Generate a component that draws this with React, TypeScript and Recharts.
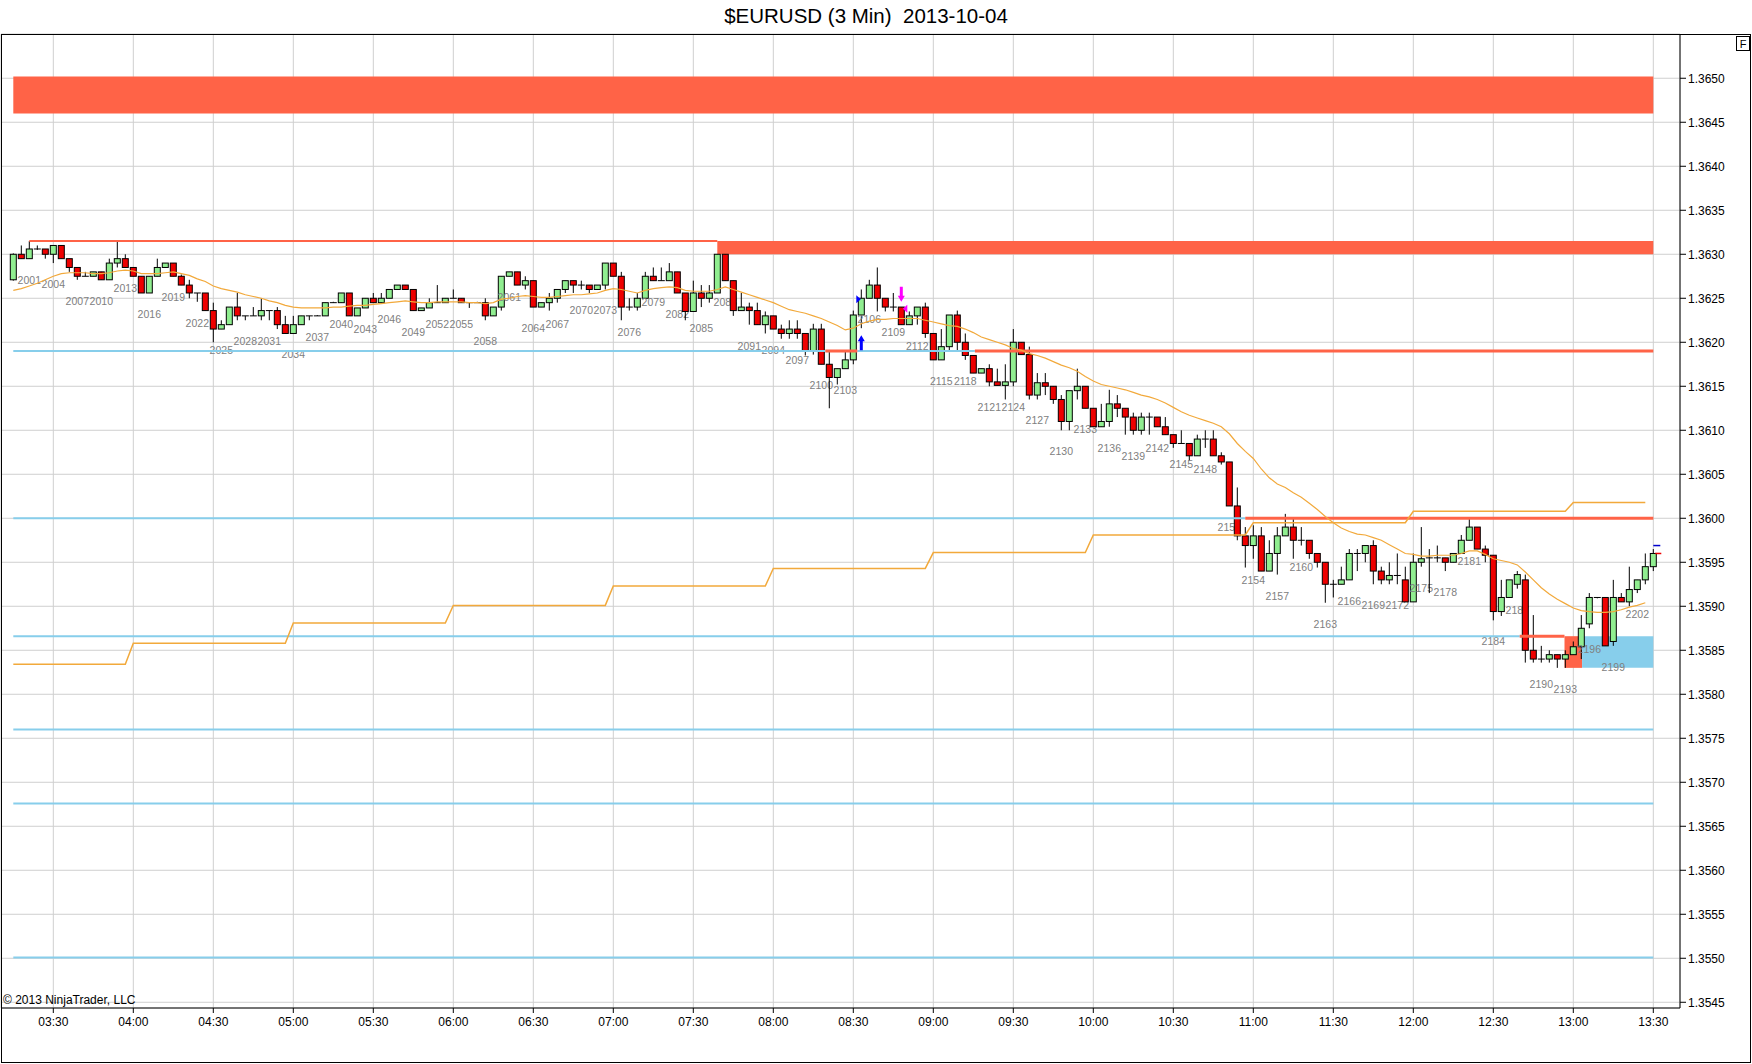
import React from "react";
import {
  ComposedChart,
  Bar,
  Line,
  XAxis,
  YAxis,
  CartesianGrid,
  ReferenceLine,
  ReferenceArea,
  ReferenceDot,
} from "recharts";

// quotes are stored in pips (0.0001) above 1.3600
const BASE = 1.36;
const PIP = 0.0001;
const FIRST_BAR = 1999;

const opens = [
  27.1, 30.0, 29.5, 30.6, 30.6, 30.0, 31.0, 29.5, 28.5, 27.5,
  27.5, 28.0, 27.1, 29.0, 29.5, 28.5, 27.5, 25.6, 27.5, 28.5,
  29.0, 27.5, 26.5, 25.6, 25.6, 23.6, 21.5, 22.0, 24.0, 23.0,
  23.0, 23.0, 23.6, 23.6, 22.0, 21.0, 22.0, 23.0, 23.0, 23.0,
  24.5, 24.5, 25.6, 23.0, 23.9, 25.0, 24.5, 25.0, 26.0, 26.5,
  26.0, 23.6, 23.9, 24.5, 24.5, 25.0, 25.0, 24.5, 24.5, 24.5,
  23.0, 24.0, 27.5, 28.0, 26.5, 27.0, 24.0, 24.5, 25.0, 26.0,
  27.0, 26.5, 26.5, 26.0, 26.5, 29.0, 27.5, 24.0, 24.0, 25.0,
  27.5, 27.0, 27.0, 28.0, 25.6, 23.5, 25.6, 25.0, 25.6, 30.0,
  27.0, 23.6, 24.0, 23.6, 22.0, 23.0, 21.5, 21.0, 21.5, 21.0,
  19.0, 21.5, 17.5, 16.0, 17.0, 18.0, 23.1, 25.0, 26.5, 25.0,
  24.0, 24.0, 22.0, 23.0, 24.0, 21.0, 18.0, 19.5, 23.1, 20.0,
  18.5, 16.5, 17.0, 15.5, 15.1, 15.5, 20.0, 18.6, 14.0, 15.4,
  15.0, 13.5, 11.0, 14.5, 15.0, 12.5, 10.4, 11.0, 13.0, 12.5,
  11.5, 10.0, 11.5, 11.5, 10.4, 9.5, 8.5, 8.5, 7.1, 9.0,
  9.0, 7.1, 6.4, 1.4, -2.0, -3.1, -2.0, -6.0, -4.0, -2.0,
  -1.0, -2.5, -2.5, -4.0, -5.0, -7.5, -7.5, -7.0, -4.0, -4.0,
  -3.1, -6.0, -7.0, -6.5, -7.0, -9.5, -5.0, -4.5, -4.5, -4.5,
  -5.0, -4.0, -2.5, -1.0, -3.5, -4.2, -10.6, -9.0, -7.5, -7.0,
  -15.0, -16.0, -16.0, -15.5, -16.0, -15.5, -14.6, -12.0, -9.0, -9.0,
  -14.0, -9.0, -9.5, -8.1, -7.0, -5.5,
];

const highs = [
  30.1, 31.0, 31.5, 31.0, 30.6, 31.0, 31.0, 29.5, 28.5, 28.0,
  28.0, 28.0, 29.5, 31.5, 30.0, 28.5, 27.5, 27.5, 29.5, 29.0,
  29.0, 27.7, 27.1, 25.6, 25.6, 24.5, 22.5, 24.0, 25.6, 23.0,
  24.0, 25.0, 23.6, 24.0, 23.0, 23.0, 23.0, 23.0, 23.1, 24.5,
  24.6, 25.6, 25.6, 23.9, 25.0, 25.6, 25.6, 26.0, 26.5, 26.5,
  26.0, 23.9, 25.0, 26.5, 25.0, 26.0, 25.0, 24.5, 24.6, 25.0,
  24.0, 27.5, 28.0, 28.0, 27.5, 27.0, 24.5, 25.6, 26.0, 27.0,
  27.0, 27.0, 26.5, 26.5, 29.0, 29.0, 28.0, 25.0, 25.6, 28.0,
  28.5, 28.5, 29.0, 28.0, 25.6, 27.0, 26.5, 26.5, 30.0, 30.0,
  27.0, 25.6, 24.5, 24.5, 23.5, 23.0, 22.0, 22.5, 22.5, 21.0,
  22.1, 22.1, 19.0, 17.0, 19.0, 23.6, 26.0, 27.1, 28.5, 25.0,
  25.6, 24.0, 23.5, 24.0, 24.5, 21.0, 21.5, 23.1, 23.6, 21.0,
  18.5, 17.0, 17.5, 17.0, 17.5, 21.5, 20.0, 19.5, 16.5, 16.5,
  15.0, 14.0, 14.5, 17.0, 15.0, 12.5, 13.0, 14.6, 14.0, 12.5,
  12.0, 12.0, 12.0, 11.5, 11.5, 9.5, 10.0, 8.5, 9.5, 10.0,
  10.0, 7.5, 6.4, 3.5, -1.0, -0.8, -1.0, -2.5, -1.0, 0.5,
  0.0, -1.0, -2.5, -4.0, -5.0, -7.0, -5.5, -3.5, -3.5, -3.1,
  -2.5, -5.5, -5.0, -4.0, -5.5, -4.0, -1.0, -3.5, -3.1, -4.5,
  -4.0, -1.9, 0.0, -1.0, -3.1, -4.2, -7.0, -7.0, -6.0, -6.4,
  -11.0, -14.5, -15.0, -15.5, -15.0, -14.0, -11.0, -8.5, -9.0, -9.0,
  -7.0, -8.5, -5.5, -7.0, -4.0, -3.5,
];

const lows = [
  27.0, 29.5, 29.5, 30.5, 29.5, 29.0, 29.5, 28.0, 27.1, 27.5,
  27.5, 27.1, 27.1, 28.5, 28.5, 27.5, 25.6, 25.6, 27.5, 28.5,
  27.5, 26.5, 25.0, 24.6, 23.6, 20.0, 21.5, 22.0, 22.5, 22.5,
  23.0, 22.5, 22.5, 21.5, 21.0, 21.0, 22.0, 22.5, 23.0, 23.0,
  24.5, 24.5, 23.0, 23.0, 23.9, 24.5, 24.5, 25.0, 26.0, 26.0,
  23.6, 23.6, 23.9, 24.5, 24.5, 25.0, 24.5, 23.9, 24.5, 22.5,
  23.0, 23.6, 27.5, 26.5, 26.0, 24.0, 24.0, 23.6, 24.5, 25.6,
  25.6, 26.0, 25.6, 26.0, 26.0, 27.5, 22.5, 23.6, 23.6, 25.0,
  27.0, 27.0, 27.0, 25.6, 22.5, 23.5, 24.0, 24.5, 25.6, 27.0,
  23.0, 23.6, 22.0, 22.0, 21.0, 21.5, 20.4, 20.4, 20.4, 18.5,
  18.6, 17.5, 12.5, 15.2, 17.0, 17.5, 21.6, 25.0, 23.5, 23.5,
  23.5, 22.0, 22.0, 22.0, 20.5, 18.0, 18.0, 19.0, 19.0, 18.0,
  16.5, 16.5, 15.0, 15.1, 13.5, 15.0, 18.6, 13.5, 13.5, 14.0,
  13.0, 10.0, 10.0, 13.5, 12.5, 10.4, 10.4, 10.4, 11.5, 9.5,
  9.5, 9.5, 9.5, 10.4, 9.5, 8.0, 8.5, 6.6, 7.1, 8.0,
  7.1, 6.1, 1.4, -2.5, -5.6, -4.6, -6.0, -6.0, -6.4, -2.0,
  -4.6, -3.1, -4.6, -5.6, -9.6, -9.0, -7.5, -7.0, -6.0, -5.0,
  -7.5, -7.5, -7.5, -7.5, -9.5, -9.5, -5.5, -8.5, -5.0, -6.0,
  -5.0, -4.0, -2.5, -3.5, -5.0, -11.6, -11.1, -9.0, -8.0, -16.4,
  -16.4, -16.4, -16.4, -17.0, -17.0, -15.5, -16.0, -12.5, -9.1, -14.5,
  -14.5, -9.5, -10.0, -8.5, -7.5, -6.0,
];

const closes = [
  30.0, 29.5, 30.6, 30.6, 30.0, 31.0, 29.5, 28.5, 27.5, 27.5,
  28.0, 27.1, 29.0, 29.5, 28.5, 27.5, 25.6, 27.5, 28.5, 29.0,
  27.5, 26.5, 25.6, 25.6, 23.6, 21.5, 22.0, 24.0, 23.0, 23.0,
  23.0, 23.6, 23.6, 22.0, 21.0, 22.0, 23.0, 23.0, 23.0, 24.5,
  24.5, 25.6, 23.0, 23.9, 25.0, 24.5, 25.0, 26.0, 26.5, 26.0,
  23.6, 23.9, 24.5, 24.5, 25.0, 25.0, 24.5, 24.5, 24.5, 23.0,
  24.0, 27.5, 28.0, 26.5, 27.0, 24.0, 24.5, 25.0, 26.0, 27.0,
  26.5, 26.5, 26.0, 26.5, 29.0, 27.5, 24.0, 24.0, 25.0, 27.5,
  27.0, 27.0, 28.0, 25.6, 23.5, 25.6, 25.0, 25.6, 30.0, 27.0,
  23.6, 24.0, 23.6, 22.0, 23.0, 21.5, 21.0, 21.5, 21.0, 19.0,
  21.5, 17.5, 16.0, 17.0, 18.0, 23.1, 25.0, 26.5, 25.0, 24.0,
  24.0, 22.0, 23.0, 24.0, 21.0, 18.0, 19.5, 23.1, 20.0, 18.5,
  16.5, 17.0, 15.5, 15.1, 15.5, 20.0, 18.6, 14.0, 15.4, 15.0,
  13.5, 11.0, 14.5, 15.0, 12.5, 10.4, 11.0, 13.0, 12.5, 11.5,
  10.0, 11.5, 11.5, 10.4, 9.5, 8.5, 8.5, 7.1, 9.0, 9.0,
  7.1, 6.4, 1.4, -2.0, -3.1, -2.0, -6.0, -4.0, -2.0, -1.0,
  -2.5, -2.5, -4.0, -5.0, -7.5, -7.5, -7.0, -4.0, -4.0, -3.1,
  -6.0, -7.0, -6.5, -6.5, -9.5, -5.0, -4.6, -4.5, -4.5, -5.0,
  -4.0, -2.5, -1.0, -3.5, -4.2, -10.6, -9.0, -7.0, -6.4, -15.0,
  -16.0, -16.0, -15.5, -16.0, -15.5, -14.6, -12.5, -9.0, -9.0, -14.5,
  -9.0, -9.5, -8.1, -7.0, -5.5, -4.0,
];

// moving average, one value per bar (last bar has none)
const sma = [
  25.9, 26.1, 26.4, 26.7, 27.1, 27.5, 27.8, 27.9, 27.9, 27.9,
  27.8, 27.8, 27.9, 28.1, 28.2, 28.1, 27.8, 27.8, 27.8, 27.9,
  28.0, 27.8, 27.6, 27.2, 26.9, 26.4, 26.1, 25.9, 25.7, 25.4,
  25.2, 25.0, 24.7, 24.5, 24.2, 24.0, 23.9, 23.9, 23.9, 23.9,
  24.0, 24.0, 24.1, 24.2, 24.2, 24.3, 24.4, 24.5, 24.6, 24.7,
  24.6, 24.5, 24.5, 24.6, 24.6, 24.6, 24.6, 24.5, 24.5, 24.4,
  24.5, 24.9, 25.0, 25.2, 25.3, 25.2, 25.1, 25.1, 25.2, 25.3,
  25.4, 25.4, 25.5, 25.6, 25.9, 26.1, 26.0, 25.8, 25.6, 25.9,
  26.1, 26.2, 26.3, 26.2, 25.9, 25.8, 25.8, 25.8, 26.0, 26.3,
  26.0, 25.7, 25.4, 25.1, 24.8, 24.5, 24.1, 23.7, 23.5, 23.3,
  23.0, 22.7, 22.3, 21.9, 21.4, 21.6, 22.1, 22.4, 22.6, 22.6,
  22.7, 22.7, 22.7, 22.7, 22.5, 22.3, 22.1, 21.9, 21.8, 21.5,
  21.1, 20.6, 20.3, 20.0, 19.7, 19.3, 19.1, 18.7, 18.5, 18.2,
  17.8, 17.4, 17.1, 16.7, 16.1, 15.6, 15.2, 15.0, 14.8, 14.6,
  14.3, 14.0, 13.8, 13.5, 13.1, 12.6, 12.1, 11.7, 11.4, 11.1,
  10.8, 10.4, 9.6, 8.5, 7.6, 6.8, 5.6, 4.6, 3.9, 3.5,
  2.9, 2.4, 1.7, 1.0, 0.2, -0.5, -1.1, -1.5, -1.8, -1.9,
  -2.2, -2.5, -3.0, -3.5, -4.0, -4.1, -4.3, -4.3, -4.2, -4.2,
  -4.2, -4.0, -3.7, -3.7, -4.1, -4.6, -4.8, -5.0, -5.3, -6.1,
  -7.0, -7.9, -8.6, -9.2, -9.7, -10.2, -10.5, -10.6, -10.7, -10.7,
  -10.6, -10.4, -10.1, -9.9, -9.6,
];

// hourly step indicator: first bar index of each hour and its level
const stepStarts = [0, 15, 35, 55, 75, 95, 115, 135, 155, 175, 195];
const stepLevels = [
  1.35834, 1.35858, 1.35881, 1.35901, 1.35923, 1.35943, 1.35961, 1.35981,
  1.35995, 1.36008, 1.36018,
];
const STEP_LAST = 204;

// horizontal zone lines: [price, fromBar, toBar]
const blueLines = [
  [1.3619, 0, 101.5],
  [1.3619, 105.5, 120.2],
  [1.36, 0, 154],
  [1.35866, 0, 188.3],
  [1.3576, 0, 205],
  [1.35676, 0, 205],
  [1.35501, 0, 205],
];
const redLines = [
  [1.3619, 101.5, 105.5],
  [1.3619, 120.2, 205],
  [1.36, 154, 205],
  [1.35866, 188.3, 193.9],
];
const thinRedLines = [[1.36315, 2, 88]];
// zones: [lowPrice, highPrice, fromBar, toBar]
const redZones = [
  [1.3646, 1.36502, 0, 205],
  [1.363, 1.36315, 88, 205],
  [1.3583, 1.35866, 193.9, 196.1],
];
const blueZones = [[1.3583, 1.35866, 196.1, 205]];

const timeLabels = [
  "03:30", "04:00", "04:30", "05:00", "05:30", "06:00", "06:30", "07:00",
  "07:30", "08:00", "08:30", "09:00", "09:30", "10:00", "10:30", "11:00",
  "11:30", "12:00", "12:30", "13:00", "13:30",
];
const timeTickBars = timeLabels.map((_, i) => 5 + i * 10);
const priceTicks = [
  1.3545, 1.355, 1.3555, 1.356, 1.3565, 1.357, 1.3575, 1.358, 1.3585, 1.359,
  1.3595, 1.36, 1.3605, 1.361, 1.3615, 1.362, 1.3625, 1.363, 1.3635, 1.364,
  1.3645, 1.365,
];

// trade markers
const longArrow = { bar: 106, tip: 20.8 };
const shortArrow = { bar: 111, tip: 24.6 };
const longFill = { bar: 106, price: 24.9 };
const shortFill = { bar: 111, price: 23.8 };
const lastMarks = { bar: 205, bid: 1.35969, ask: 1.3596 };

const toPrice = (p: number) => BASE + p * PIP;

const stepAt = (k: number) => {
  let v = stepLevels[0];
  stepStarts.forEach((s, i) => {
    if (k >= s) v = stepLevels[i];
  });
  return v;
};

const rows = opens.map((o, k) => {
  const lo = toPrice(lows[k]);
  const hi = toPrice(highs[k]);
  return {
    k,
    bar: FIRST_BAR + k,
    o: toPrice(o),
    h: hi,
    l: lo,
    c: toPrice(closes[k]),
    range: [lo, hi],
    ma: k < sma.length ? toPrice(sma[k]) : null,
    step: k <= STEP_LAST ? stepAt(k) : null,
  };
});

const GREEN = "#90EE90";
const RED = "#EE0000";
const ZONE_RED = "#FF6347";
const SKY = "#87CEEB";
const ORANGE = "#F2A93B";
const FONT = "Liberation Sans, Arial, sans-serif";

function Candle(props: any) {
  const { x, y, width, height, payload } = props;
  if (!payload || !isFinite(y) || !isFinite(height)) return null;
  const { o, h, l, c, bar } = payload;
  const cx = x + width / 2;
  const unit = height / (h - l);
  const py = (v: number) => y + (h - v) * unit;
  const top = py(Math.max(o, c));
  const bot = py(Math.min(o, c));
  const up = c >= o;
  const label = (bar - 2001) % 3 === 0;
  return (
    <g>
      <line x1={cx} x2={cx} y1={y} y2={y + height} stroke="#000" strokeWidth={1} />
      {bot - top < 1 ? (
        <line x1={cx - 3.5} x2={cx + 3.5} y1={top} y2={top} stroke="#000" strokeWidth={1} />
      ) : (
        <rect x={cx - 3} y={top} width={6} height={bot - top} fill={up ? GREEN : RED} stroke="#000" strokeWidth={1} />
      )}
      {label && (
        <text x={cx} y={y + height + 25} textAnchor="middle" fontFamily={FONT} fontSize={10.5} fill="#808080">
          {bar}
        </text>
      )}
    </g>
  );
}

const UpArrow = ({ cx, cy, color }: any) => (
  <path
    d={`M${cx},${cy} L${cx + 3.5},${cy + 6} L${cx + 1.5},${cy + 6} L${cx + 1.5},${cy + 15} L${cx - 1.5},${cy + 15} L${cx - 1.5},${cy + 6} L${cx - 3.5},${cy + 6} Z`}
    fill={color}
  />
);
const DownArrow = ({ cx, cy, color }: any) => (
  <path
    d={`M${cx},${cy} L${cx + 3.5},${cy - 6} L${cx + 1.5},${cy - 6} L${cx + 1.5},${cy - 15} L${cx - 1.5},${cy - 15} L${cx - 1.5},${cy - 6} L${cx - 3.5},${cy - 6} Z`}
    fill={color}
  />
);

export default function App() {
  return (
    <div style={{ position: "absolute", left: 0, top: 0, width: 1752, height: 1064, background: "#fff" }}>
      <ComposedChart
        width={1752}
        height={1064}
        data={rows}
        margin={{ top: 34, right: 0, bottom: 0, left: 1 }}
      >
        <CartesianGrid stroke="#CFCFCF" strokeWidth={1} />
        <XAxis
          dataKey="k"
          type="number"
          domain={[-1.5375, 208.3375]}
          allowDataOverflow
          ticks={timeTickBars}
          tickFormatter={(v: number) => timeLabels[Math.round((v - 5) / 10)]}
          stroke="#000"
          tickSize={5}
          tickMargin={4}
          height={56}
          tick={{ fill: "#000", fontSize: 12, fontFamily: FONT }}
        />
        <YAxis
          orientation="right"
          type="number"
          domain={[1.354435, 1.365503]}
          allowDataOverflow
          ticks={priceTicks}
          tickFormatter={(v: number) => v.toFixed(4)}
          stroke="#000"
          tickSize={6}
          tickMargin={2}
          width={72}
          tick={{ fill: "#000", fontSize: 12, fontFamily: FONT }}
        />
        {redZones.map(([y1, y2, x1, x2], i) => (
          <ReferenceArea key={`rz${i}`} x1={x1} x2={x2} y1={y1} y2={y2} fill={ZONE_RED} fillOpacity={1} stroke="none" ifOverflow="visible" />
        ))}
        {blueZones.map(([y1, y2, x1, x2], i) => (
          <ReferenceArea key={`bz${i}`} x1={x1} x2={x2} y1={y1} y2={y2} fill={SKY} fillOpacity={1} stroke="none" ifOverflow="visible" />
        ))}
        {blueLines.map(([p, a, b], i) => (
          <ReferenceLine key={`bl${i}`} segment={[{ x: a, y: p }, { x: b, y: p }]} stroke={SKY} strokeWidth={2} ifOverflow="visible" />
        ))}
        {redLines.map(([p, a, b], i) => (
          <ReferenceLine key={`rl${i}`} segment={[{ x: a, y: p }, { x: b, y: p }]} stroke={ZONE_RED} strokeWidth={3} ifOverflow="visible" />
        ))}
        {thinRedLines.map(([p, a, b], i) => (
          <ReferenceLine key={`tl${i}`} segment={[{ x: a, y: p }, { x: b, y: p }]} stroke={ZONE_RED} strokeWidth={2} ifOverflow="visible" />
        ))}
        <Line dataKey="step" type="linear" stroke={ORANGE} strokeWidth={1.5} dot={false} activeDot={false} isAnimationActive={false} />
        <Line dataKey="ma" type="linear" stroke={ORANGE} strokeWidth={1.2} dot={false} activeDot={false} isAnimationActive={false} />
        <Bar dataKey="range" barSize={6} shape={Candle} isAnimationActive={false} />
        <ReferenceDot
          x={longArrow.bar}
          y={toPrice(longArrow.tip)}
          r={0}
          ifOverflow="visible"
          shape={(p: any) => <UpArrow cx={p.cx} cy={p.cy} color="#0000FF" />}
        />
        <ReferenceDot
          x={shortArrow.bar}
          y={toPrice(shortArrow.tip)}
          r={0}
          ifOverflow="visible"
          shape={(p: any) => <DownArrow cx={p.cx} cy={p.cy} color="#FF00FF" />}
        />
        <ReferenceDot
          x={longFill.bar}
          y={toPrice(longFill.price)}
          r={0}
          ifOverflow="visible"
          shape={(p: any) => <path d={`M${p.cx - 5},${p.cy - 4} L${p.cx - 0.5},${p.cy} L${p.cx - 5},${p.cy + 4} Z`} fill="#0000FF" />}
        />
        <ReferenceDot
          x={shortFill.bar}
          y={toPrice(shortFill.price)}
          r={0}
          ifOverflow="visible"
          shape={(p: any) => <path d={`M${p.cx + 6},${p.cy - 4} L${p.cx + 1.5},${p.cy} L${p.cx + 6},${p.cy + 4} Z`} fill="#FF00FF" />}
        />
        <ReferenceDot
          x={lastMarks.bar}
          y={lastMarks.bid}
          r={0}
          ifOverflow="visible"
          shape={(p: any) => <line x1={p.cx} x2={p.cx + 7} y1={p.cy} y2={p.cy} stroke="#0000CC" strokeWidth={1.5} />}
        />
        <ReferenceDot
          x={lastMarks.bar}
          y={lastMarks.ask}
          r={0}
          ifOverflow="visible"
          shape={(p: any) => <line x1={p.cx + 2} x2={p.cx + 8} y1={p.cy} y2={p.cy} stroke="#EE0000" strokeWidth={1.5} />}
        />
      </ComposedChart>
      <svg width={1752} height={1064} style={{ position: "absolute", left: 0, top: 0, pointerEvents: "none" }}>
        <text x={866} y={23} textAnchor="middle" fontFamily={FONT} fontSize={20.5} fill="#000" style={{ whiteSpace: "pre" }}>
          {"$EURUSD (3 Min)  2013-10-04"}
        </text>
        <rect x={1.5} y={34.5} width={1749} height={1028} fill="none" stroke="#000" strokeWidth={1} />
        <rect x={1736.5} y={36.5} width={13} height={14} fill="#fff" stroke="#000" strokeWidth={1} />
        <text x={1743} y={48} textAnchor="middle" fontFamily={FONT} fontSize={11} fill="#000">
          F
        </text>
        <text x={3} y={1004} fontFamily={FONT} fontSize={12} fill="#000">
          © 2013 NinjaTrader, LLC
        </text>
      </svg>
    </div>
  );
}
